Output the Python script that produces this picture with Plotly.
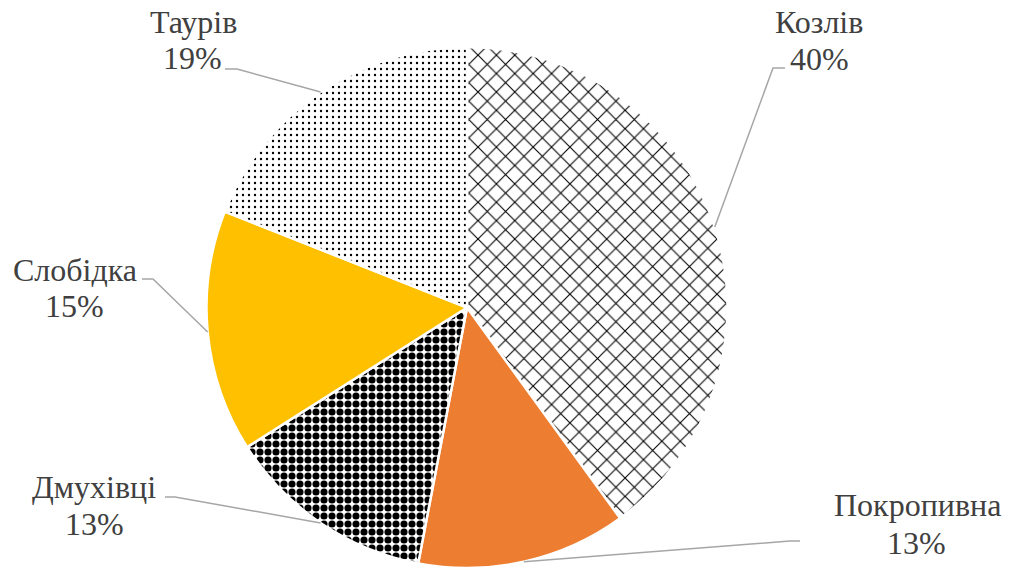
import math
import plotly.graph_objects as go

# ---- data ----
villages = ["Козлів", "Покропивна", "Дмухівці", "Слобідка", "Таурів"]
shares = [40, 13, 13, 15, 19]
slice_colors = ["white", "#ED7D31", "white", "#FFC000", "white"]
pattern_shapes = ["x", "", ".", "", "."]
pattern_sizes = [13, 8, 8, 8, 6]
pattern_solidity = [0.16, 0.3, 0.62, 0.3, 0.12]

# label placement: pixel centres of name line and percent line, leader elbow and end
name_pos = [(819, 22), (917, 505), (94, 487), (75, 270), (193, 22)]
pct_pos = [(819, 59), (916, 543), (94, 524), (74, 306), (192, 58)]
elbows = [((773, 68), (785, 68)), ((790, 541), (800, 541)),
          ((175, 497), (165, 497)), ((153, 279), (142, 279)),
          ((237, 69), (225, 69))]

W, H = 1011, 568
cx, cy, r = 467.0, 307.5, 260.5
dom_x = [(cx - r) / W, (cx + r) / W]
dom_y = [0.0, 1 - (cy - r) / H]

fig = go.Figure(go.Pie(
    labels=villages, values=shares, sort=False, direction="clockwise", rotation=0,
    textinfo="none", hoverinfo="skip", showlegend=False,
    domain=dict(x=dom_x, y=dom_y),
    marker=dict(colors=slice_colors, line=dict(color="white", width=2.5),
                pattern=dict(shape=pattern_shapes, fgcolor="black",
                             size=pattern_sizes, solidity=pattern_solidity)),
))

def px(x):
    return x / W

def py(y):
    return 1 - y / H

FONT = dict(family="Liberation Serif", size=32, color="#404040")

total = sum(shares)
acc = 0
shapes = []
annotations = []
for name, v, (nx, ny), (qx, qy), (elb, end) in zip(villages, shares, name_pos, pct_pos, elbows):
    mid = (acc + v / 2) / total * 2 * math.pi
    acc += v
    ex = cx + r * math.sin(mid)
    ey = cy - r * math.cos(mid)
    path = f"M {px(ex)} {py(ey)} L {px(elb[0])} {py(elb[1])} L {px(end[0])} {py(end[1])}"
    shapes.append(dict(type="path", xref="paper", yref="paper", path=path,
                       line=dict(color="#A6A6A6", width=1.5)))
    pct = round(v / total * 100)
    for txt, (tx, ty) in ((name, (nx, ny)), (f"{pct}%", (qx, qy))):
        annotations.append(dict(text=txt, x=px(tx), y=py(ty),
                                xref="paper", yref="paper", xanchor="center", yanchor="middle",
                                showarrow=False, font=FONT))

fig.update_layout(width=W, height=H, margin=dict(l=0, r=0, t=0, b=0),
                  paper_bgcolor="white", plot_bgcolor="white",
                  shapes=shapes, annotations=annotations)

fig.write_html("out.html")
